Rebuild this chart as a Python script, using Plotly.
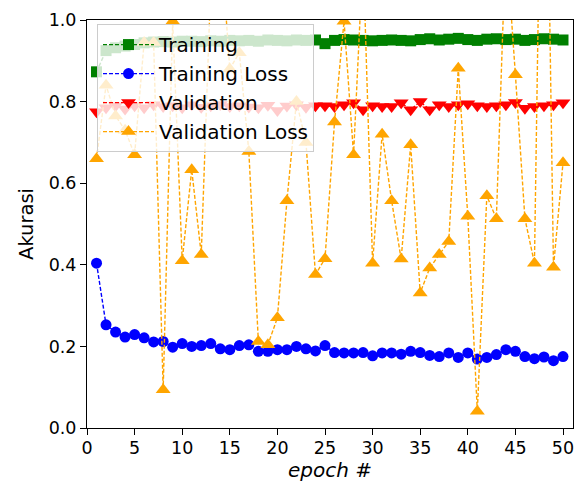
import plotly.graph_objects as go

epochs = list(range(1, 51))

training = [0.873, 0.925, 0.932, 0.936, 0.940, 0.944, 0.946, 0.947, 0.946, 0.948,
            0.948, 0.947, 0.949, 0.948, 0.950, 0.949, 0.950, 0.948, 0.951, 0.950,
            0.949, 0.951, 0.950, 0.951, 0.942, 0.950, 0.952, 0.951, 0.950, 0.949,
            0.950, 0.951, 0.950, 0.949, 0.952, 0.954, 0.951, 0.953, 0.955, 0.952,
            0.950, 0.953, 0.954, 0.952, 0.953, 0.950, 0.952, 0.954, 0.953, 0.951]

training_loss = [0.404, 0.253, 0.235, 0.223, 0.229, 0.221, 0.211, 0.212, 0.198, 0.207,
                 0.200, 0.202, 0.207, 0.194, 0.192, 0.202, 0.204, 0.188, 0.188, 0.192,
                 0.192, 0.200, 0.194, 0.189, 0.202, 0.185, 0.184, 0.184, 0.185, 0.177,
                 0.184, 0.184, 0.181, 0.188, 0.185, 0.178, 0.175, 0.184, 0.173, 0.184,
                 0.169, 0.173, 0.180, 0.192, 0.188, 0.175, 0.170, 0.174, 0.165, 0.175]

validation = [0.775, 0.785, 0.790, 0.782, 0.790, 0.785, 0.792, 0.788, 0.790, 0.785,
              0.792, 0.786, 0.790, 0.793, 0.788, 0.790, 0.787, 0.785, 0.791, 0.778,
              0.789, 0.792, 0.786, 0.790, 0.790, 0.788, 0.792, 0.797, 0.780, 0.790,
              0.788, 0.788, 0.797, 0.780, 0.800, 0.780, 0.792, 0.788, 0.792, 0.795,
              0.790, 0.788, 0.790, 0.792, 0.798, 0.784, 0.788, 0.790, 0.792, 0.797]

validation_loss = [0.660, 0.840, 0.765, 0.730, 0.670, 0.945, 0.945, 0.094, 0.997, 0.410,
                   0.633, 0.425, 1.090, 1.210, 0.880, 0.920, 0.678, 0.212, 0.204, 0.270,
                   0.557, 0.800, 0.700, 0.376, 0.415, 0.750, 0.997, 0.670, 1.160, 0.404,
                   0.720, 0.557, 0.414, 0.694, 0.331, 0.392, 0.425, 0.457, 0.882, 0.519,
                   0.041, 0.569, 0.513, 1.200, 0.866, 0.513, 0.404, 1.950, 0.394, 0.650]

x_ticks = [0, 5, 10, 15, 20, 25, 30, 35, 40, 45, 50]
y_ticks = [0.0, 0.2, 0.4, 0.6, 0.8, 1.0]

FONT = "DejaVu Sans"

fig = go.Figure()


def add(name, values, color, symbol, size):
    fig.add_trace(go.Scatter(
        x=epochs, y=values, name=name, mode="lines+markers",
        line=dict(color=color, width=1.4, dash="4px,2px"),
        marker=dict(color=color, symbol=symbol, size=size, line=dict(width=0)),
    ))


add("Training", training, "green", "square", 11)
add("Training Loss", training_loss, "blue", "circle", 11)
add("Validation", validation, "red", "triangle-down", 13)
add("Validation Loss", validation_loss, "orange", "triangle-up", 13)

axis_common = dict(
    showgrid=False, zeroline=False, showline=True, mirror=True, automargin=False,
    linecolor="black", linewidth=1, ticks="outside", ticklen=6, tickwidth=1,
    tickcolor="black", tickfont=dict(family=FONT, size=17.5, color="black"),
)

# The page body has an 8px default margin, so the figure is 8px smaller
# and its left/top margins are reduced by 8px.
fig.update_layout(
    width=578, height=475, autosize=False,
    margin=dict(l=79, r=13, t=12, b=55),
    paper_bgcolor="white", plot_bgcolor="white",
    font=dict(family=FONT, color="black"),
    xaxis=dict(range=[0, 51.05], tickvals=x_ticks, ticklabelstandoff=-2,
               title=dict(text="<i>epoch #</i>", font=dict(family=FONT, size=20), standoff=2),
               **axis_common),
    yaxis=dict(range=[0, 1], tickvals=y_ticks, tickformat=".1f",
               title=dict(text="Akurasi", font=dict(family=FONT, size=19.5), standoff=9),
               **axis_common),
    legend=dict(x=0.0206, y=0.990, xanchor="left", yanchor="top",
                bgcolor="rgba(255,255,255,0.8)", bordercolor="rgb(204,204,204)",
                borderwidth=1, font=dict(family=FONT, size=20, color="black"),
                itemwidth=51, tracegroupgap=0),
    showlegend=True,
)

fig.write_html("out.html")
